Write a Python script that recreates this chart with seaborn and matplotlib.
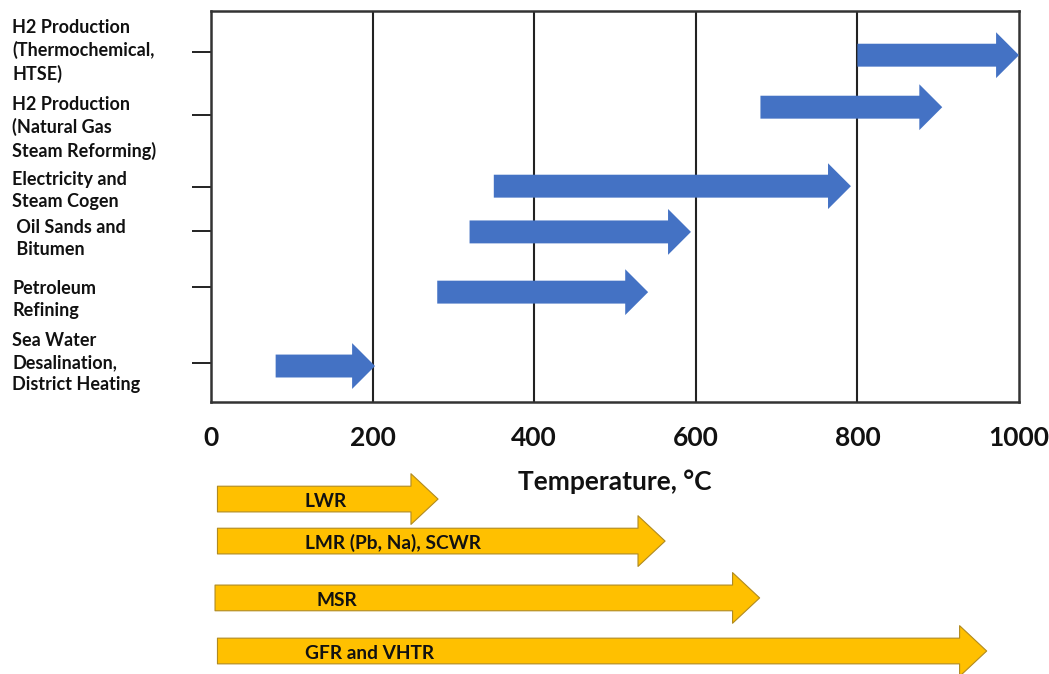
import numpy as np
import matplotlib.pyplot as plt
import matplotlib.transforms as mtransforms
from matplotlib.patches import FancyArrowPatch
import seaborn as sns

# Process heat applications and their temperature ranges (deg C)
applications = [
    "H2 Production\n(Thermochemical,\nHTSE)",
    "H2 Production\n(Natural Gas\nSteam Reforming)",
    "Electricity and\nSteam Cogen",
    " Oil Sands and\n Bitumen",
    "Petroleum\nRefining",
    "Sea Water\nDesalination,\nDistrict Heating",
]
app_start = [800, 680, 350, 320, 280, 80]
app_end = [1000, 905, 792, 594, 541, 203]

# Reactor types and their outlet temperature ranges (deg C)
reactors = ["LWR", "LMR (Pb, Na), SCWR", "MSR", "GFR and VHTR"]
reactor_start = [8, 8, 5, 8]
reactor_end = [281, 562, 679, 960]

temp_ticks = [0, 200, 400, 600, 800, 1000]

# layout (vertical placement of rows)
app_tick_y = [8.95, 7.34, 5.50, 4.37, 2.94, 1.00]
app_arrow_y = [8.87, 7.54, 5.52, 4.35, 2.81, 0.92]
app_label_y = [8.98, 7.01, 5.42, 4.19, 2.63, 1.00]
reactor_y = [0.837, 0.636, 0.364, 0.110]
reactor_label_x = [116, 116, 130, 116]

BLUE = "#4472C4"
ORANGE = "#FFC000"


def draw_arrow(ax, x0, x1, y, fc, ec, tail, head_w, head_len, lw=0.0):
    style = f"simple,head_length={head_len},head_width={head_w},tail_width={tail}"
    p = FancyArrowPatch((x0, y), (x1, y), arrowstyle=style, mutation_scale=1,
                        shrinkA=0, shrinkB=0, fc=fc, ec=ec, lw=lw,
                        clip_on=False, zorder=3)
    ax.add_patch(p)


def main():
    sns.set_theme(style="white")
    plt.rcParams['font.family'] = ['Lato', 'DejaVu Sans']

    fig = plt.figure(figsize=(10.49, 6.74), dpi=100)
    W, H = 1049, 674
    ax = fig.add_axes([211 / W, (H - 402) / H, (1019 - 211) / W, (402 - 11) / H])
    ax2 = fig.add_axes([211 / W, 0, (1019 - 211) / W, (H - 465) / H], sharex=ax)

    # main panel
    ax.set_xlim(0, 1000)
    ax.set_ylim(0, 10)
    for t in temp_ticks[1:-1]:
        ax.axvline(t, color="#222222", lw=1.5, zorder=1)
    for s in ax.spines.values():
        s.set_color("#333333")
        s.set_linewidth(1.8)

    ax.set_xticks(temp_ticks)
    ax.set_xticklabels([str(t) for t in temp_ticks], fontsize=19,
                       fontweight="bold", color="#111111")
    ax.tick_params(axis="x", length=0, pad=17)
    ax.set_yticks(app_tick_y)
    ax.set_yticklabels([])
    ax.tick_params(axis="y", left=True, length=13.5, width=1.4, color="#222222")
    ax.set_xlabel("Temperature, °C", fontsize=19, fontweight="bold",
                  color="#111111", labelpad=14)

    trans = mtransforms.blended_transform_factory(fig.transFigure, ax.transData)
    for label, y in zip(applications, app_label_y):
        ax.text(12 / W, y, label, transform=trans, ha="left", va="center",
                fontsize=13, fontweight="bold", color="#111111",
                linespacing=1.35)

    for x0, x1, y in zip(app_start, app_end, app_arrow_y):
        draw_arrow(ax, x0, x1, y, BLUE, BLUE, tail=16.5, head_w=33, head_len=16.5)

    # reactor panel below
    ax2.set_ylim(0, 1)
    ax2.axis("off")
    for x0, x1, y in zip(reactor_start, reactor_end, reactor_y):
        draw_arrow(ax2, x0, x1, y, ORANGE, "#B08A20", tail=18.5, head_w=36.5,
                   head_len=19.5, lw=0.8)
    for name, x, y in zip(reactors, reactor_label_x, reactor_y):
        ax2.text(x, y - 0.01, name, ha="left", va="center", fontsize=13.8,
                 fontweight="bold", color="#111111", zorder=4)

    fig.savefig("out.png", dpi=100)
    plt.close(fig)


if __name__ == "__main__":
    main()
